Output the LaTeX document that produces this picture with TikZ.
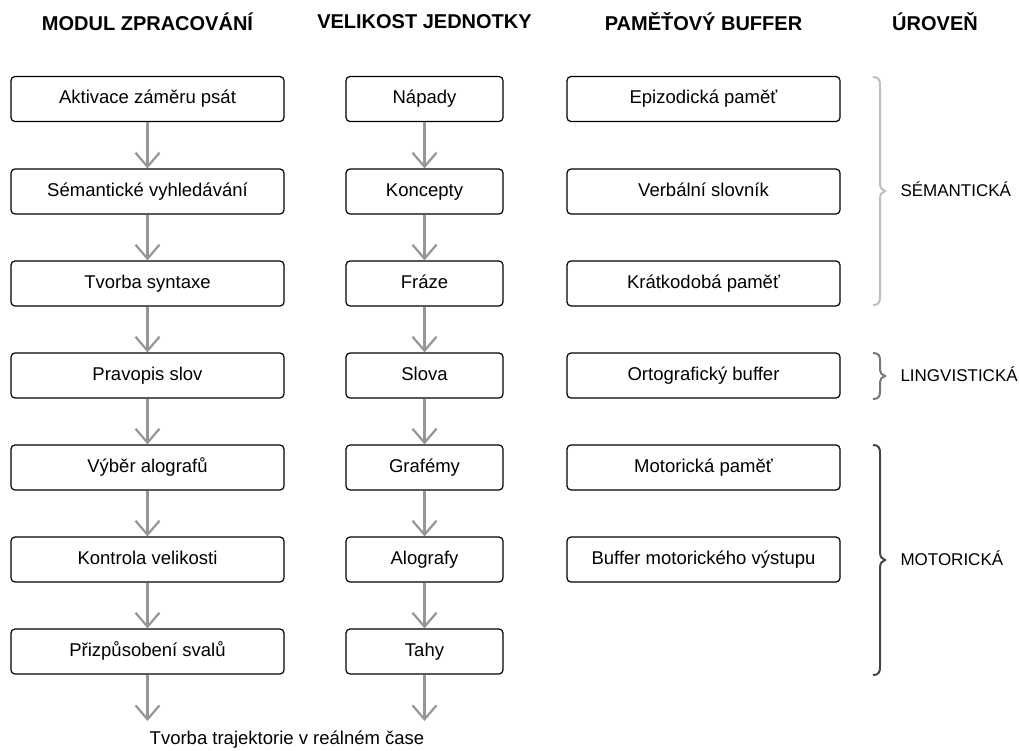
\documentclass[tikz,border=0pt]{standalone}
\usepackage{fontspec}
\setmainfont{Liberation Sans}
\usetikzlibrary{arrows.meta}
\begin{document}
\begin{tikzpicture}[x=1pt,y=-1pt,
  box/.style={draw=black,line width=1.2pt,rounded corners=4pt,minimum height=45pt,inner sep=0pt,
    text height=13pt,text depth=4pt,font=\fontsize{18.5}{21}\selectfont},
  col1/.style={box,minimum width=273pt},
  col2/.style={box,minimum width=157pt},
  col3/.style={box,minimum width=273pt},
  flow/.style={draw={rgb,255:red,150;green,150;blue,150},line width=2.2pt,-{Straight Barb[length=14pt,width=24pt,line width=2.2pt]}},
  head/.style={font=\fontsize{20}{24}\bfseries\selectfont},
  lvl/.style={font=\fontsize{17}{20}\selectfont,anchor=west},
  brace/.style={line width=2pt}
]
\useasboundingbox (0,0) rectangle (1019,750);

% column headers
\node[head] (h1) at (147.5,22) {MODUL ZPRACOVÁNÍ};
\node[head] (h2) at (424.5,22) {VELIKOST JEDNOTKY};
\node[head] (h3) at (703.5,22) {PAMĚŤOVÝ BUFFER};
\node[head] (h4) at (935,22) {ÚROVEŇ};

% processing modules
\node[col1] (a1) at (147.5,99) {Aktivace záměru psát};
\node[col1] (a2) at (147.5,191.5) {Sémantické vyhledávání};
\node[col1] (a3) at (147.5,283.5) {Tvorba syntaxe};
\node[col1] (a4) at (147.5,375.5) {Pravopis slov};
\node[col1] (a5) at (147.5,467.5) {Výběr alografů};
\node[col1] (a6) at (147.5,559.5) {Kontrola velikosti};
\node[col1] (a7) at (147.5,651.5) {Přizpůsobení svalů};

% unit sizes
\node[col2] (b1) at (424.5,99) {Nápady};
\node[col2] (b2) at (424.5,191.5) {Koncepty};
\node[col2] (b3) at (424.5,283.5) {Fráze};
\node[col2] (b4) at (424.5,375.5) {Slova};
\node[col2] (b5) at (424.5,467.5) {Grafémy};
\node[col2] (b6) at (424.5,559.5) {Alografy};
\node[col2] (b7) at (424.5,651.5) {Tahy};

% memory buffers
\node[col3] (c1) at (703.5,99) {Epizodická paměť};
\node[col3] (c2) at (703.5,191.5) {Verbální slovník};
\node[col3] (c3) at (703.5,283.5) {Krátkodobá paměť};
\node[col3] (c4) at (703.5,375.5) {Ortografický buffer};
\node[col3] (c5) at (703.5,467.5) {Motorická paměť};
\node[col3] (c6) at (703.5,559.5) {Buffer motorického výstupu};

% output
\node[font=\fontsize{18.5}{21}\selectfont] (out) at (287,740) {Tvorba trajektorie v reálném čase};
\coordinate (e1) at (147.5,721);
\coordinate (e2) at (424.5,721);

% flow arrows
\foreach \i/\j in {1/2,2/3,3/4,4/5,5/6,6/7}{
  \draw[flow] (a\i.south) -- (a\j.north);
  \draw[flow] (b\i.south) -- (b\j.north);
}
\draw[flow] (a7.south) -- (e1);
\draw[flow] (b7.south) -- (e2);

% level braces
\draw[brace,draw={rgb,255:red,190;green,190;blue,190}]
  (873,77) .. controls (879,77) and (880,80) .. (880,86) -- (880,183)
  .. controls (880,188) and (882,190) .. (885,191)
  .. controls (882,192) and (880,194) .. (880,199) -- (880,296)
  .. controls (880,302) and (879,305) .. (873,305);
\node[lvl] (l1) at (897,189) {SÉMANTICKÁ};

\draw[brace,draw={rgb,255:red,120;green,120;blue,120}]
  (873,353) .. controls (879,353) and (880,356) .. (880,361) -- (880,370)
  .. controls (880,373) and (882,375) .. (885,376)
  .. controls (882,377) and (880,379) .. (880,382) -- (880,391)
  .. controls (880,396) and (879,399) .. (873,399);
\node[lvl] (l2) at (897,374) {LINGVISTICKÁ};

\draw[brace,draw={rgb,255:red,70;green,70;blue,70}]
  (873,445) .. controls (879,445) and (880,448) .. (880,454) -- (880,552)
  .. controls (880,557) and (882,559) .. (885,560)
  .. controls (882,561) and (880,563) .. (880,568) -- (880,666)
  .. controls (880,672) and (879,675) .. (873,675);
\node[lvl] (l3) at (897,558) {MOTORICKÁ};
\end{tikzpicture}
\end{document}
